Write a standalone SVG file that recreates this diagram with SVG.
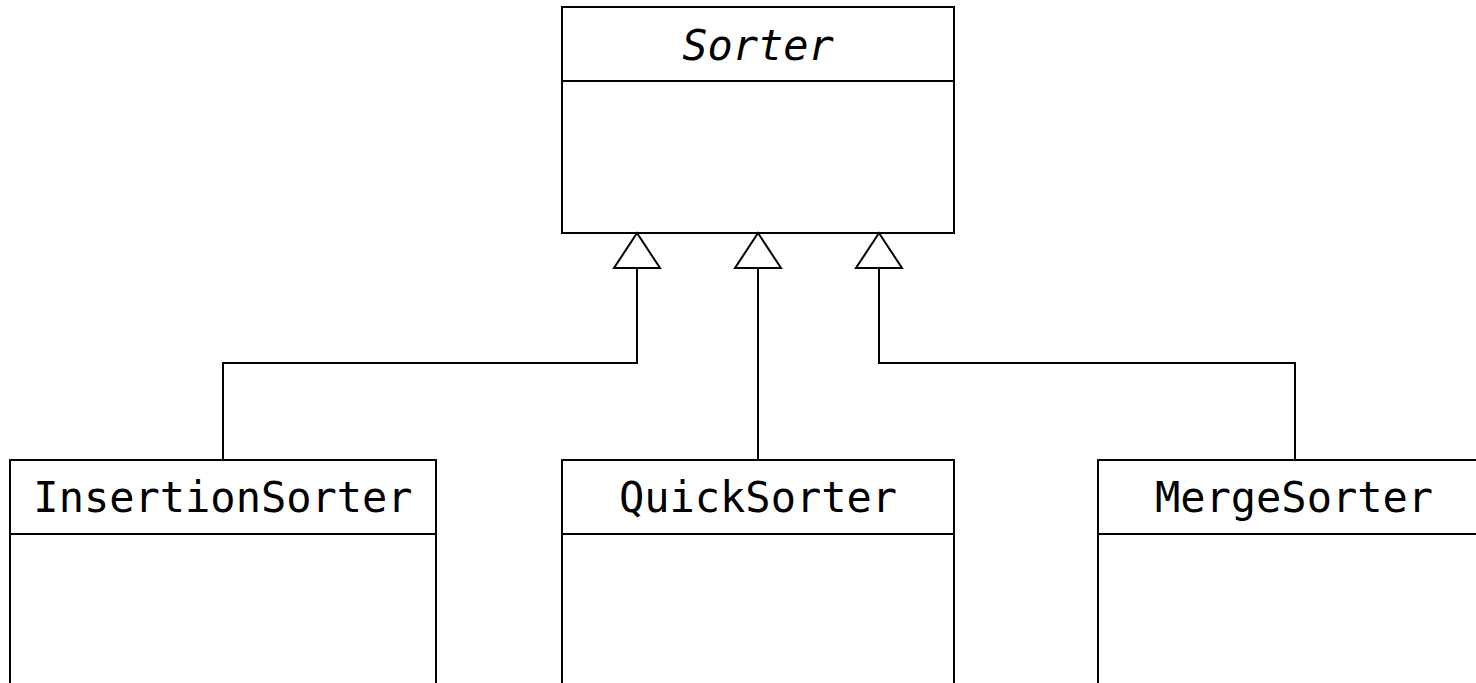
<svg xmlns="http://www.w3.org/2000/svg" width="1476" height="683" viewBox="0 0 1476 683">
<style>
.box{fill:#fff;stroke:#000;stroke-width:2}
.ln{fill:none;stroke:#000;stroke-width:2}
.t{font-family:"DejaVu Sans Mono",monospace;font-size:42px;text-anchor:middle;fill:#000}
.it{font-style:italic}
.tri{fill:#fff;stroke:#000;stroke-width:2}
</style>
<rect width="1476" height="683" fill="#fff"/>
<g id="Sorter">
<rect class="box" x="562" y="7" width="392" height="226"/>
<line class="ln" x1="562" y1="81" x2="954" y2="81"/>
<text class="t it" x="758" y="60">Sorter</text>
</g>
<g id="InsertionSorter">
<rect class="box" x="10" y="460" width="426" height="240"/>
<line class="ln" x1="10" y1="534" x2="436" y2="534"/>
<text class="t" x="223" y="512">InsertionSorter</text>
</g>
<g id="QuickSorter">
<rect class="box" x="562" y="460" width="392" height="240"/>
<line class="ln" x1="562" y1="534" x2="954" y2="534"/>
<text class="t" x="758" y="512">QuickSorter</text>
</g>
<g id="MergeSorter">
<rect class="box" x="1098" y="460" width="400" height="240"/>
<line class="ln" x1="1098" y1="534" x2="1498" y2="534"/>
<text class="t" x="1294" y="512">MergeSorter</text>
</g>
<g id="connectors">
<polyline class="ln" points="223,460 223,363 637,363 637,268"/>
<polygon class="tri" points="637,233 614,268 660,268"/>
<line class="ln" x1="758" y1="460" x2="758" y2="268"/>
<polygon class="tri" points="758,233 735,268 781,268"/>
<polyline class="ln" points="1295,460 1295,363 879,363 879,268"/>
<polygon class="tri" points="879,233 856,268 902,268"/>
</g>
</svg>
